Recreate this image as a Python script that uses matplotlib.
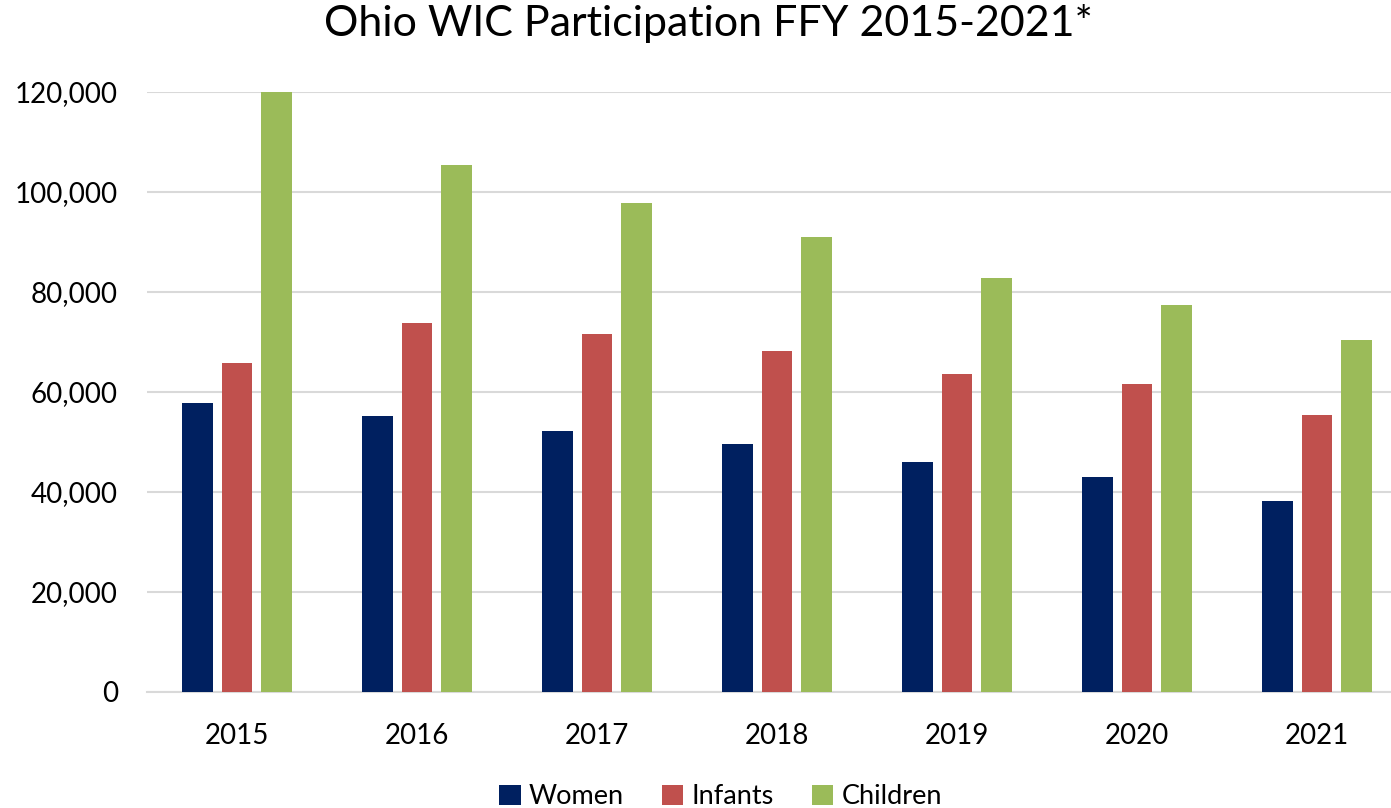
import numpy as np
import matplotlib.pyplot as plt
from matplotlib.ticker import FuncFormatter

plt.rcParams['font.family'] = ['Lato', 'DejaVu Sans']

# Ohio WIC participation by federal fiscal year
years = ['2015', '2016', '2017', '2018', '2019', '2020', '2021']
women = [57900, 55300, 52300, 49700, 46000, 43100, 38300]
infants = [65900, 73900, 71600, 68200, 63700, 61600, 55500]
children = [120000, 105500, 97800, 91000, 82800, 77500, 70500]

colors = ['#002060', '#c0504d', '#9bbb59']

fig = plt.figure(figsize=(13.91, 8.08), dpi=100)
# plot area runs a little past the right edge, like the original
ax = fig.add_axes([147/1391, 1 - 692/808, 1260/1391, 600/808])

x = np.arange(len(years))
w = 0.172
step = 0.22
ax.bar(x - step, women, w, color=colors[0], label='Women', zorder=3)
ax.bar(x, infants, w, color=colors[1], label='Infants', zorder=3)
ax.bar(x + step, children, w, color=colors[2], label='Children', zorder=3)

ax.set_xlim(-0.5, len(years) - 0.5)
ax.set_ylim(0, 120000)
ax.set_yticks(range(0, 120001, 20000))
ax.yaxis.set_major_formatter(FuncFormatter(lambda v, p: f'{int(v):,}'))
ax.set_xticks(x)
ax.set_xticklabels(years)
ax.tick_params(axis='both', length=0, labelsize=20)
ax.tick_params(axis='x', pad=22)
ax.tick_params(axis='y', pad=21)
ax.grid(axis='y', color='#d9d9d9', linewidth=1.5, zorder=0)
for s in ['top', 'right', 'left']:
    ax.spines[s].set_visible(False)
ax.spines['bottom'].set_color('#d9d9d9')
ax.spines['bottom'].set_linewidth(1.5)

fig.suptitle('Ohio WIC Participation FFY 2015-2021*', fontsize=31, x=0.509, y=0.995, va='top')
fig.legend(loc='lower center', ncol=3, frameon=False, fontsize=19.5,
           bbox_to_anchor=(0.518, -0.032), handlelength=0.8, handleheight=0.8,
           handletextpad=0.3, columnspacing=1.4)

fig.savefig('out.png', dpi=100)
